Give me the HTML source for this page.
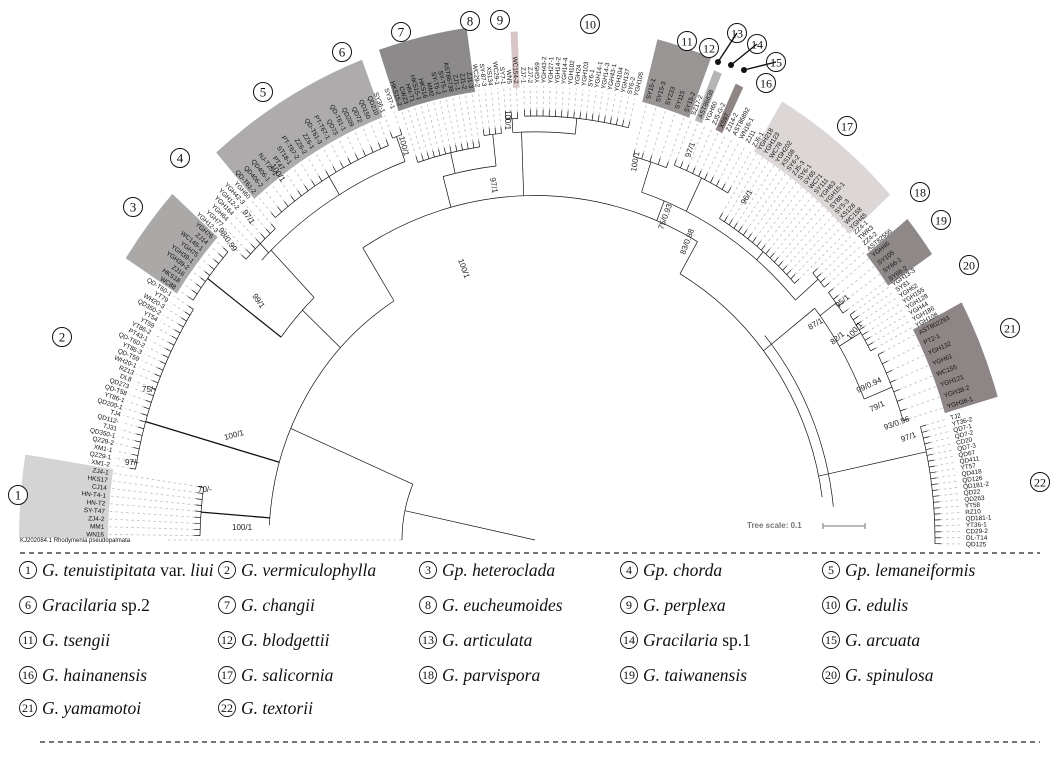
<!DOCTYPE html>
<html><head><meta charset="utf-8"><style>
html,body{margin:0;padding:0;background:#fff;}
svg{display:block;}
.lg{font-family:"Liberation Serif",serif;font-size:17.5px;font-style:italic;fill:#111;}
.n{font-style:normal;}
.cn{font-family:"Liberation Serif",serif;font-size:12px;fill:#111;}
</style></head><body>
<svg id="s" width="1061" height="757" viewBox="0 0 1061 757" xmlns="http://www.w3.org/2000/svg">
<g id="boxes"></g><g id="tree" stroke="#111" stroke-width="0.7" fill="none"></g><g id="lead"></g><g id="labs" font-family="Liberation Sans, sans-serif" font-size="6.4" fill="#111"></g><g id="boot" font-family="Liberation Sans, sans-serif" font-size="8" fill="#222"></g><g id="circ"></g>
<text x="20" y="542" font-family="Liberation Sans, sans-serif" font-size="6" fill="#111">KJ202084.1 Rhodymenia pseudopalmata</text>
<text x="747" y="528" font-family="Liberation Sans, sans-serif" font-size="8" font-weight="bold" fill="#777">Tree scale: 0.1</text>
<g stroke="#777" stroke-width="1"><line x1="823" y1="526" x2="865" y2="526"/><line x1="823" y1="523" x2="823" y2="529"/><line x1="865" y1="523" x2="865" y2="529"/></g>
<line x1="20" y1="553" x2="1040" y2="553" stroke="#222" stroke-width="1.2" stroke-dasharray="5,4"/>
<line x1="40" y1="742" x2="1040" y2="742" stroke="#222" stroke-width="1.2" stroke-dasharray="5,4"/>
<g id="legend"></g>
</svg>
<script>
var NS="http://www.w3.org/2000/svg",cx=535,cy=540,KY=1.06,LR=431;
function el(p,t,a,txt){var e=document.createElementNS(NS,t);for(var k in a)e.setAttribute(k,a[k]);if(txt!=null)e.textContent=txt;document.getElementById(p).appendChild(e);return e;}
function P(r,a){a=a*Math.PI/180;return [cx+r*Math.cos(a),cy-r*KY*Math.sin(a)];}
function rad(a,r1,r2,w){var p=P(r1,a),q=P(r2,a);el("tree","line",{x1:p[0],y1:p[1],x2:q[0],y2:q[1],"stroke-width":w||0.7});}
function arc(r,a1,a2){var p=P(r,a1),q=P(r,a2);el("tree","path",{d:"M"+p[0]+" "+p[1]+" A"+r+" "+(r*KY)+" 0 "+((a2-a1)>180?1:0)+" 0 "+q[0]+" "+q[1]});}
function sector(r1,r2,a1,a2,c){var p1=P(r1,a1),p2=P(r2,a1),p3=P(r2,a2),p4=P(r1,a2);el("boxes","path",{d:"M"+p1+" L"+p2+" A"+r2+" "+(r2*KY)+" 0 0 0 "+p3+" L"+p4+" A"+r1+" "+(r1*KY)+" 0 0 1 "+p1+"Z",fill:c});}
var G=[
[171.5,179.3,335,"WN16,MM1,ZJ4-2,SY-T47,HN-T2,HN-T4-1,CJ14,HKS17,ZJ4-1"],
[147.5,170.5,405,"XM1-2,QZ29-1,XM1-1,QZ29-2,QD350-1,TJ31,QD112-,TJ4,QD200-1,YT86-1,QD-T58,QD273,DL8,RZ13,WH20-1,QD-T59,YT86-3,QD-T60-2,PT43-1,YT86-2,YT59,YT54,QD350-2,WH20-3,YT79,QD-T60-1"],
[138.5,146.5,410,"WC88,HKS18,ZJ16,YGH39-2,YGH39-1,YGH75,WC149-1,ZJ14,YGH76"],
[131.5,137.5,392,"YGH12-3,YGH77,YGH64,YGH164,YGH12-2,YGH42-3,YGH60"],
[111.5,130.5,400,"QD-T61-2,QD406-2,QD406-1,NJ-T25-1,PT47,ST18-1,PT-T67-2,ZZ6-2,ZZ6-1,QD-T61-3,PT-T67-1,QD73,QD-T61-1,QD209,QD72,QD150,QD210"],
[109.2,110.6,405,"SY36-1,SY37-1"],
[98.5,108.2,375,"HKS15-2,CWZ3,HN-T1,HKS15-1,HKS16,MM2,SY-T5-2,SY-T5-1,AST86738,ZJ1-1,ZJ1-2,ZJ1-3"],
[95,97.6,385,"WC29-2,SY-87-3,XS134,WC29-1"],
[92.5,94.2,398,"SY7-1,WN5,WC154-2"],
[76.5,91.5,400,"ZJ7-1,ZJ7-2,YGH59,YGH43-2,YGH27-1,YGH14-2,YGH14-4,YGH102,YGH24,YGH103,SY6-1,YGH14-1,YGH14-3,YGH43-1,YGH104,YGH137,SY6-2,YGH105"],
[69.5,74.8,375,"SY15-1,SY15-3,SY233,SY115,SY15-2"],
[59.5,68.5,380,"SZ17-2,AST86838,YGH60,ZJ5-G-2,XS97,ZJ14-2,AST86892,WN16-1,ZJ11,ZJ6-1"],
[43,58.7,355,"YGH218,YGH123,WC78,YGH202,XS108,SY6-2,ZJ5-3,SY6-1,SY65,WC71,SY111,YGH63,YGH15-1,SY88,SY5-3,XS128,WC158,YGH45"],
[39.5,42.2,375,"ZZ4-1,TWR3,ZZ4-2,AST82556"],
[34.8,38.5,375,"YGH46,SY105,SY66-1,SY66-2"],
[28,34,380,"YGH13-3,SY81,YGH62,YGH155,YGH128,YGH44,YGH186,YGH108"],
[17,27,385,"AST802293,PT2-1,YGH132,YGH61,WC155,YGH121,YGH38-2,YGH38-1"],
[-0.5,15.5,400,"TJ2,YT36-2,QD7-1,QD7-2,CD20,QD7-3,QD67,QD411,YT57,QD418,QD126,QD181-2,QD22,QD263,YT58,RZ10,QD181-1,YT36-1,CD29-2,DL-T14,QD125"]];
var ang={};
G.forEach(function(g,gi){var L=g[3].split(","),n=L.length;var arr=[];
 L.forEach(function(t,i){var a=n==1?(g[0]+g[1])/2:g[1]-(g[1]-g[0])*i/(n-1);arr.push(a);
  var p=P(g[2],a),q=P(g[2]+6,a),e=P(LR-3,a);
  el("tree","line",{x1:p[0],y1:p[1],x2:q[0],y2:q[1]});
  el("lead","line",{x1:q[0],y1:q[1],x2:e[0],y2:e[1],stroke:"#bbb","stroke-width":0.8,"stroke-dasharray":"2.5,3"});
  var s=P(LR,a),rot=a<=90?-a:180-a;
  el("labs","text",{transform:"translate("+s[0].toFixed(1)+","+s[1].toFixed(1)+") rotate("+rot.toFixed(1)+")","text-anchor":a<=90?"start":"end",dy:"2.2"},t);
 });
 arc(g[2],g[0],g[1]);ang[gi]=arr;});
function sp(gi){var a=ang[gi];return (a.length>1?Math.abs(a[0]-a[1]):1.5)/2;}
function box(gi,i1,i2,c,ro){var a=ang[gi],h=sp(gi);sector(LR-4,ro||485,a[i2]-h,a[i1]+h,c);}
box(0,0,8,"#d4d4d4",516);box(2,0,8,"#aba8a8",488);box(4,0,16,"#adabab",485);box(6,0,11,"#8c8a8a",488);
box(8,2,2,"#d8c6c6",480);box(10,0,4,"#9a9595",488);box(11,1,1,"#b4b4b4",478);box(11,4,4,"#8f8585",475);
box(12,0,17,"#dcd6d6",482);box(14,0,3,"#8e8888",480);box(16,0,7,"#8e8686",482);
rad(168,0,133);arc(133,156.7,180);rad(156.7,133,266);
var o=P(133,180);el("lead","line",{x1:168,y1:540,x2:o[0],y2:540,stroke:"#bbb","stroke-width":0.8,"stroke-dasharray":"2.5,3"});
arc(266,122,177);rad(175.5,266,335,1.3);rad(164,266,405,1.3);
rad(137,266,318);arc(318,134,143);rad(143,318,410,1.2);rad(134,318,380);arc(380,121,136);rad(134.5,380,392);rad(121,380,400);rad(110,380,405);arc(380,110,121);
rad(122,266,325);arc(325,60,122);rad(105,325,355);arc(355,96.3,105);rad(103,355,375);rad(96.3,355,385);
rad(92,325,385);arc(385,84,93.3);rad(93.3,385,398);rad(84,385,400);
rad(68,325,345);arc(345,50,72);rad(72,345,375);rad(64,345,380);rad(50,345,355);rad(41,345,375);arc(345,41,50);
rad(60,290,325);arc(290,8,60);rad(38,290,355);arc(355,22,38);rad(36.6,355,375);rad(31,355,380);rad(22,355,385);rad(12,290,400);arc(300,6,40);
[["100/1",225,440,-15],["99/1",252,296,55],["98/0.99",218,230,55],["97/1",242,212,55],["100/1",270,166,55],["100/1",458,260,70],["100/1",399,137,75],["97/1",490,178,80],["100/1",505,110,90],["100/1",636,172,-80],["97/1",690,158,-70],["96/1",745,205,-60],["75/0.93",663,230,-70],["83/0.88",685,255,-70],["87/1",810,330,-30],["95/1",838,308,-40],["100/1",850,340,-50],["82/1",833,345,-40],["99/0.94",858,393,-25],["79/1",871,412,-25],["93/0.96",885,430,-20],["97/1",902,442,-20],["75/-",142,392,0],["97/-",125,465,0],["70/-",198,492,0],["100/1",232,530,0]].forEach(function(b){el("boot","text",{transform:"translate("+b[1]+","+b[2]+") rotate("+b[3]+")"},b[0]);});
[[1,18,495],[2,62,337],[3,133,207],[4,180,158],[5,263,92],[6,342,52],[7,401,32],[8,470,21],[9,500,20],[10,590,24],[11,687,41],[12,709,48],[13,737,33],[14,757,44],[15,776,62],[16,766,83],[17,847,126],[18,920,192],[19,941,220],[20,969,265],[21,1010,328],[22,1040,482]].forEach(function(c){
 el("circ","circle",{cx:c[1],cy:c[2],r:9.5,fill:"#fff",stroke:"#111","stroke-width":1});
 el("circ","text",{x:c[1],y:c[2]+4.5,"text-anchor":"middle","font-family":"Liberation Serif, serif","font-size":c[0]>9?12:13,fill:"#111"},c[0]);});
[[737,33,718,62],[757,44,731,65],[776,62,744,70]].forEach(function(l){el("circ","line",{x1:l[0],y1:l[1],x2:l[2],y2:l[3],stroke:"#111","stroke-width":1.4});el("circ","circle",{cx:l[2],cy:l[3],r:3,fill:"#111"});});
var LG=[[1,"G. tenuistipitata"," var. ","liui"],[2,"G. vermiculophylla"],[3,"Gp. heteroclada"],[4,"Gp. chorda"],[5,"Gp. lemaneiformis"],
[6,"Gracilaria"," sp.2"],[7,"G. changii"],[8,"G. eucheumoides"],[9,"G. perplexa"],[10,"G. edulis"],
[11,"G. tsengii"],[12,"G. blodgettii"],[13,"G. articulata"],[14,"Gracilaria"," sp.1"],[15,"G. arcuata"],
[16,"G. hainanensis"],[17,"G. salicornia"],[18,"G. parvispora"],[19,"G. taiwanensis"],[20,"G. spinulosa"],
[21,"G. yamamotoi"],[22,"G. textorii"]];
var CX=[28,227,428,629,831],RY=[576,611,646,681,714];
LG.forEach(function(it,i){var x=CX[i%5],y=RY[Math.floor(i/5)];
 el("legend","circle",{cx:x,cy:y-6,r:8.5,fill:"none",stroke:"#111","stroke-width":0.9});
 el("legend","text",{x:x,y:y-2,"text-anchor":"middle","class":"cn","font-size":it[0]>9?10:12},it[0]);
 var t=el("legend","text",{x:x+14,y:y,"class":"lg"});
 var s1=document.createElementNS(NS,"tspan");s1.textContent=" "+it[1];t.appendChild(s1);
 if(it[2]){var s2=document.createElementNS(NS,"tspan");s2.setAttribute("class","n");s2.textContent=it[2];t.appendChild(s2);}
 if(it[3]){var s3=document.createElementNS(NS,"tspan");s3.textContent=it[3];t.appendChild(s3);}
});
</script>
</body></html>
